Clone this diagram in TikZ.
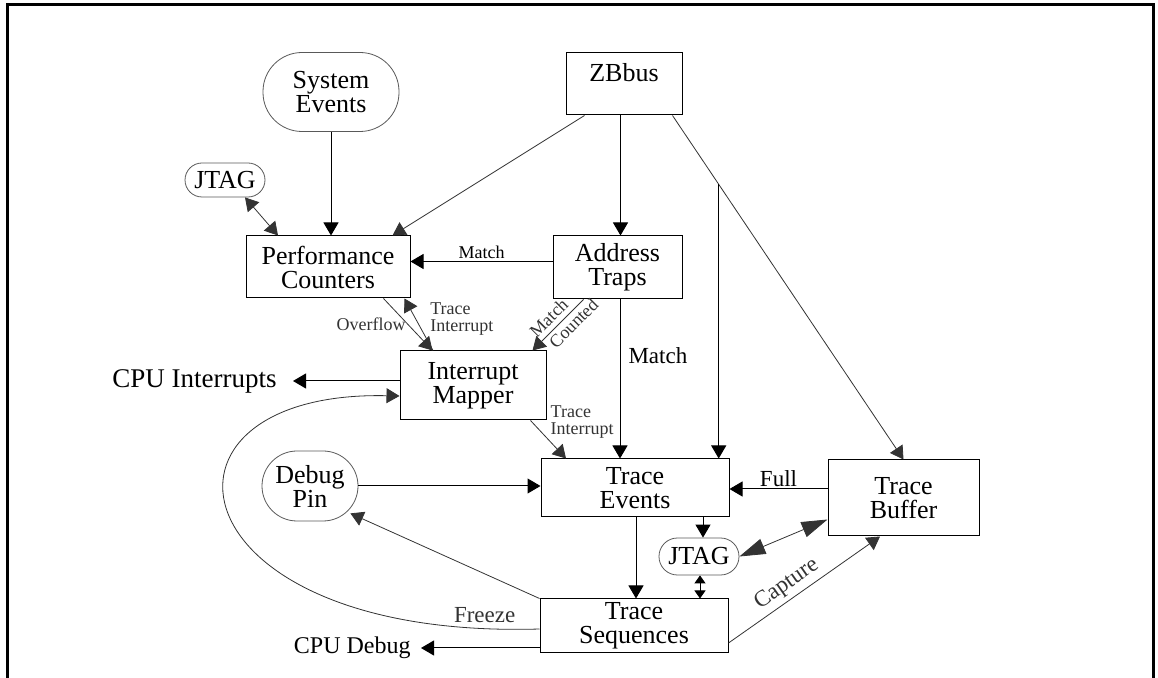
\documentclass[tikz,border=0pt]{standalone}
\usepackage{fontspec}
\setmainfont{Liberation Serif}
\usetikzlibrary{calc}
\usetikzlibrary{arrows.meta}
\usetikzlibrary{positioning}

\begin{document}
\begin{tikzpicture}[x=0.5pt, y=-0.5pt, >={Triangle[length=6.5pt, width=7.5pt]}]
            \tikzstyle{blk} = [draw, line width=0.5pt, inner sep=0pt, align=center, font=\fontsize{13}{12}\selectfont]
            \tikzstyle{pill} = [blk, draw=black!65, line width=0.4pt]
            \tikzstyle{lbl} = [inner sep=1pt, align=left, font=\fontsize{9}{8.5}\selectfont]
            \tikzstyle{lblbig} = [inner sep=1pt, font=\fontsize{11.5}{12}\selectfont]
            \tikzstyle{wire} = [->, line width=0.5pt]
            \tikzstyle{thinwire} = [->, line width=0.4pt, color=black!80]

            \useasboundingbox (0, 0) rectangle (1158, 678);
            \draw[line width=1.5pt] (7, 678) -- (7, 5) -- (1153, 5) -- (1153, 678);

            \node[pill, rounded corners=19.5pt, minimum width=68pt, minimum height=39.5pt] (sysev) at (331, 92) {System\\Events};
            \node[blk, minimum width=58pt, minimum height=31pt, text height=14.5pt, text depth=16.5pt] (zbbus) at (624, 84) {ZBbus};
            \node[pill, rounded corners=8.5pt, minimum width=40pt, minimum height=17pt] (jtagA) at (225, 180) {JTAG};
            \node[blk, minimum width=82pt, minimum height=31pt] (perf) at (328, 267) {Performance\\Counters};
            \node[blk, minimum width=64.5pt, minimum height=31.5pt] (traps) at (617.5, 267.5) {Address\\Traps};
            \node[blk, minimum width=73pt, minimum height=34.5pt] (mapper) at (473, 385.5) {Interrupt\\Mapper};
            \node[blk, minimum width=94pt, minimum height=29pt] (tevents) at (635, 488) {Trace\\Events};
            \node[blk, minimum width=75.5pt, minimum height=38pt] (tbuffer) at (903.5, 498) {Trace\\Buffer};
            \node[pill, rounded corners=9.2pt, minimum width=40pt, minimum height=18.5pt] (jtagB) at (699, 556.5) {JTAG};
            \node[blk, minimum width=94pt, minimum height=27pt] (tseq) at (634, 626) {Trace\\Sequences};
            \node[pill, rounded corners=17.5pt, minimum width=48pt, minimum height=35pt] (dbgpin) at (310, 486) {Debug\\Pin};
            \node[anchor=east, inner ysep=0pt, inner xsep=8pt, font=\fontsize{13.5}{12}\selectfont] (cpuint) at (293, 381) {CPU Interrupts};
            \node[anchor=east, inner ysep=0pt, inner xsep=5pt, font=\fontsize{12}{12}\selectfont] (cpudbg) at (421, 648) {CPU Debug};

            % bus and event sources
            \draw[wire] (sysev.south) -- (sysev.south |- perf.north);
            \draw[thinwire] ([xshift=9.5pt]zbbus.south west) -- ([xshift=-9pt]perf.north east);
            \draw[wire] ([xshift=1.5pt]traps.north |- zbbus.south) -- ([xshift=1.5pt]traps.north);
            \draw[thinwire] ([xshift=-5pt]zbbus.south east) -- (tbuffer.north);
            \coordinate (tap) at ($([xshift=-5pt]zbbus.south east)!0.2!(tbuffer.north)$);
            \draw[wire] (tap) -- (tap |- tevents.north);
            \draw[thinwire, <->] ([xshift=10pt]jtagA.south) -- ([xshift=-25pt]perf.north);

            % counters, traps and mapper
            \draw[wire] ([yshift=3pt]traps.west) -- ([yshift=3pt]traps.west -| perf.east) node[midway, above, lbl] {Match};
            \draw[thinwire] ([xshift=-13.5pt]perf.south east) -- ([xshift=16.5pt]mapper.north west) node[pos=0.5, left, lbl] {Overflow};
            \draw[thinwire] ([xshift=-20pt]mapper.north) -- ([xshift=-3pt]perf.south east) node[pos=0.6, right=6pt, lbl] {Trace\\Interrupt};
            \draw[thinwire] ([xshift=-17pt]traps.south) -- ([xshift=-7pt]mapper.north east)
                node[pos=0.52, sloped, above=1.5pt, lbl] {Match}
                node[pos=0.33, sloped, below=0.5pt, lbl] {Counted};
            \draw[wire] ([xshift=1.25pt]traps.south) -- ([xshift=1.25pt]traps.south |- tevents.north) node[pos=0.35, right=3pt, lblbig] {Match};
            \draw[wire] (mapper.west |- cpuint.east) -- (cpuint.east);
            \draw[thinwire] ([xshift=-8pt]mapper.south east) -- ([xshift=-34.5pt]tevents.north) node[pos=0.05, right=8pt, lbl] {Trace\\Interrupt};

            % trace unit
            \draw[wire] (dbgpin.east) -- (dbgpin.east -| tevents.west);
            \draw[thinwire] (tseq.north west) -- ([xshift=-4pt, yshift=4pt]dbgpin.south east);
            \draw[wire] ([yshift=4.5pt]tbuffer.west) -- ([yshift=4.5pt]tbuffer.west -| tevents.east) node[midway, above, lblbig] {Full};
            \draw[wire] ([xshift=2pt]jtagB.north |- tevents.south) -- ([xshift=2pt]jtagB.north);
            \draw[thinwire, {Triangle[length=13pt, width=8pt]}-{Triangle[length=13pt, width=8pt]}] (jtagB.east) -- ([yshift=8.5pt]tbuffer.south west);
            \draw[wire] ([xshift=0.5pt]tevents.south) -- ([xshift=0.5pt]tevents.south |- tseq.north);
            \draw[line width=0.5pt, {Triangle[length=4pt, width=5.5pt]}-{Triangle[length=4pt, width=5.5pt]}] ([xshift=0.5pt]jtagB.south) -- ([xshift=0.5pt]jtagB.south |- tseq.north);
            \draw[thinwire] ([yshift=-8.5pt]tseq.east) -- ([xshift=-11.75pt]tbuffer.south) node[pos=0.44, sloped, above=1pt, lblbig] {Capture};
            \draw[wire] (tseq.west |- cpudbg.east) -- (cpudbg.east);
            \draw[thinwire] ([yshift=-1.5pt]tseq.west) .. controls (170, 640) and (130, 390) .. ([yshift=-5.25pt]mapper.west) node[pos=0.02, anchor=south east, yshift=2pt, lblbig] {Freeze};
        \end{tikzpicture}
\end{document}
